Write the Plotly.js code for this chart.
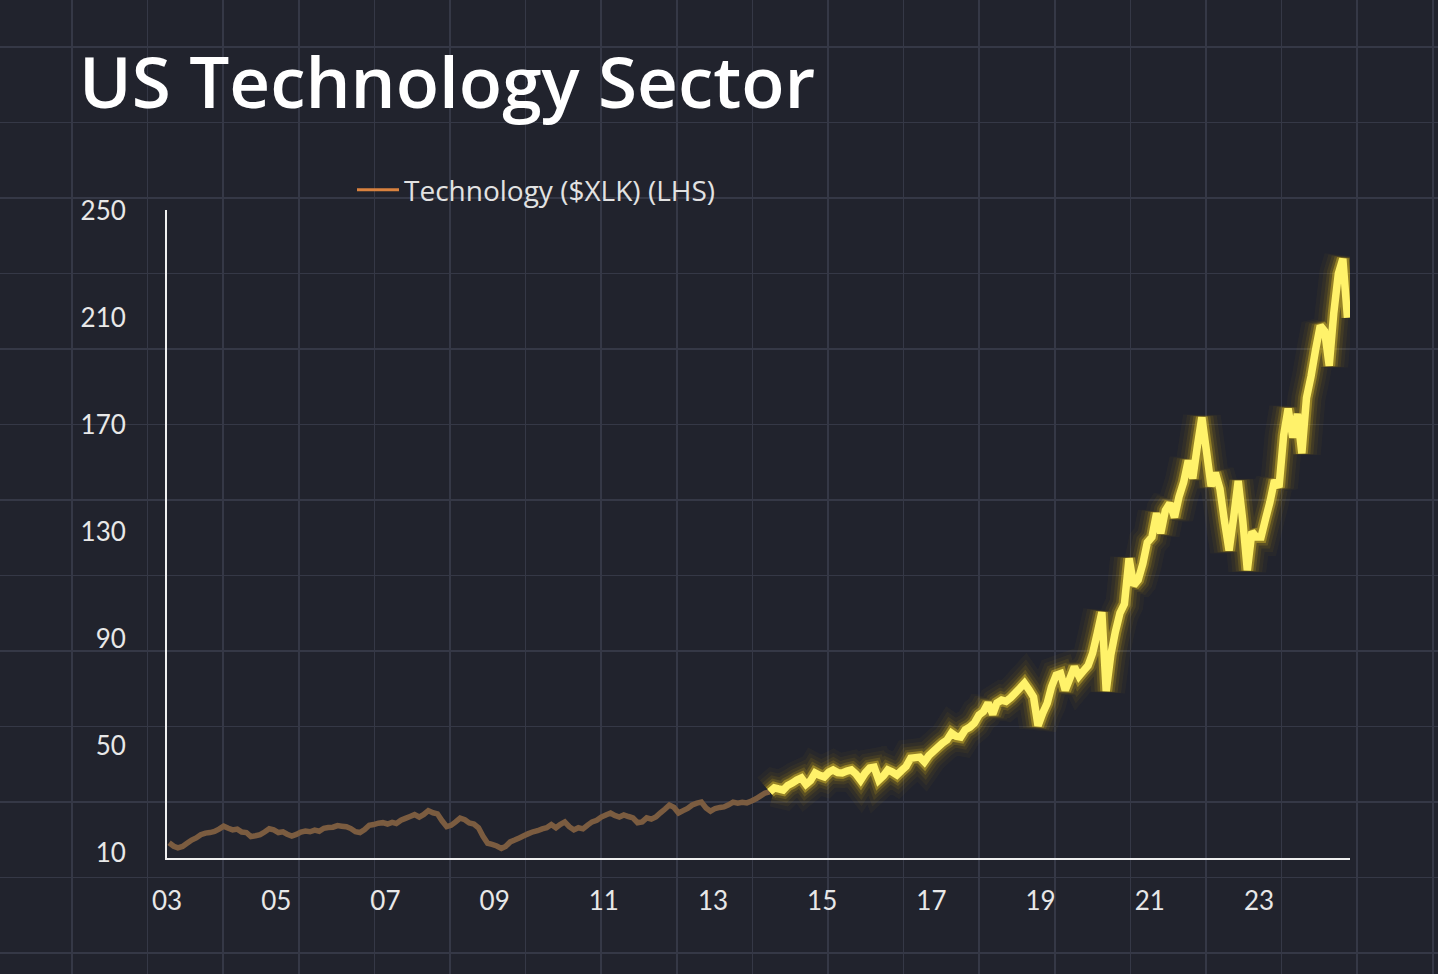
<!DOCTYPE html>
<html>
<head>
<meta charset="utf-8">
<script src="https://cdn.plot.ly/plotly-3.0.1.min.js"></script>
<style>
html,body{margin:0;padding:0;background:#21232d;}
#chart{width:1438px;height:974px;}
</style>
</head>
<body>
<div id="chart"></div>
<script>
// XLK monthly values, Jan 2003 -> Aug 2024 (mid-month)
let xlkStartYear = 2003;
let xlk2003_2008 = [
  13.8, 12.5, 11.9, 12.4, 13.6, 14.8, 15.6, 16.8, 17.4, 17.6, 18.0, 18.9,
  20.0, 19.2, 18.6, 18.9, 17.8, 17.6, 16.1, 16.4, 16.8, 17.8, 19.0, 18.6,
  17.6, 17.9, 17.0, 16.3, 16.9, 17.8, 18.2, 17.9, 18.5, 18.1, 19.2, 19.5,
  19.6, 20.2, 20.0, 19.8, 19.1, 17.9, 17.6, 18.7, 20.3, 20.6, 21.1, 21.3,
  20.8, 21.4, 21.0, 22.2, 22.9, 23.6, 24.3, 23.4, 24.4, 25.8, 25.0, 24.6,
  22.0, 19.8, 20.3, 21.6, 23.0, 22.4, 21.2, 20.8, 19.4, 16.2, 13.6, 13.2
];
let xlk2009_2013 = [
  12.6, 11.7, 12.4, 14.1, 14.8, 15.6, 16.4, 17.2, 17.9, 18.3, 19.0, 19.4,
  20.6, 19.4, 20.6, 21.6, 19.8, 18.6, 19.4, 19.0, 20.4, 21.6, 22.2, 23.4,
  24.2, 24.9, 24.0, 23.4, 24.2, 23.6, 23.1, 21.3, 21.6, 23.1, 22.6, 23.4,
  25.0, 26.4, 27.9, 27.0, 24.9, 25.8, 26.6, 27.9, 28.6, 29.0, 26.8, 25.6,
  26.6, 27.0, 27.2, 28.0, 29.0, 28.6, 28.9, 28.7, 29.4, 30.2, 31.3, 32.4
];
let xlk2014_2019 = [
  32.8, 34.3, 33.9, 33.5, 35.2, 36.1, 37.2, 38.0, 35.6, 37.0, 39.9, 39.0,
  38.4, 40.2, 41.0, 40.0, 39.9, 40.6, 41.0, 39.5, 37.2, 39.8, 41.7, 42.0,
  37.2, 38.8, 41.0, 40.2, 39.1, 40.8, 42.3, 45.4, 45.6, 45.8, 44.0, 46.4,
  48.0, 49.6, 51.0, 52.2, 54.8, 53.6, 53.3, 56.0, 57.0, 58.5, 61.5, 62.8,
  66.0, 61.8, 66.0, 67.1, 66.6, 68.0, 69.7, 71.5, 73.4, 71.0, 68.2, 57.5,
  62.2, 66.0, 72.0, 76.4, 77.0, 70.8, 75.0, 79.5, 76.0, 78.0, 80.0, 84.6
];
let xlk2020_2024 = [
  92.0, 99.9, 70.5, 84.0, 92.5, 99.6, 103.0, 120.0, 110.0, 112.0, 118.0, 126.0,
  128.0, 136.9, 129.4, 138.0, 140.6, 135.4, 143.0, 148.5, 156.6, 149.9, 162.0, 172.7,
  160.0, 147.0, 152.0, 146.0, 134.0, 123.0, 135.0, 149.0, 134.0, 115.6, 130.0, 128.0,
  128.0, 135.0, 141.0, 149.2, 146.6, 166.0, 176.0, 165.2, 174.0, 159.3, 180.0, 188.0,
  198.0, 207.0, 205.0, 192.0, 211.5, 226.4, 232.0, 210.0
];
let highlightStart = '2014-01-15';   // the glowing part starts here

let xTickYears = [2003, 2005, 2007, 2009, 2011, 2013, 2015, 2017, 2019, 2021, 2023];
let xTickLabels = ['03', '05', '07', '09', '11', '13', '15', '17', '19', '21', '23'];
let yTickValues = [10, 50, 90, 130, 170, 210, 250];
let seriesName = 'Technology ($XLK) (LHS)';

let values = xlk2003_2008.concat(xlk2009_2013, xlk2014_2019, xlk2020_2024);
let dates = values.map(function(v, i){
  let yr = xlkStartYear + Math.floor(i / 12);
  let mo = (i % 12) + 1;
  return yr + '-' + (mo < 10 ? '0' + mo : mo) + '-15';
});
let cut = dates.indexOf(highlightStart);

let oldX = dates.slice(0, cut + 1), oldY = values.slice(0, cut + 1);
let newX = dates.slice(cut), newY = values.slice(cut);

function glow(width, color){
  return {x: newX, y: newY, xaxis: 'x2', yaxis: 'y2', mode: 'lines', showlegend: false,
    hoverinfo: 'skip', line: {color: color, width: width, simplify: false}};
}

let traces = [
  // empty trace so the background grid axes get drawn
  {x: [], y: [], xaxis: 'x', yaxis: 'y', mode: 'lines', showlegend: false, hoverinfo: 'skip'},
  {x: oldX, y: oldY, xaxis: 'x2', yaxis: 'y2', mode: 'lines', showlegend: false,
    line: {color: '#7b5c40', width: 5.5, simplify: false}},
  glow(38, 'rgba(255,190,0,0.035)'),
  glow(30, 'rgba(255,195,0,0.05)'),
  glow(23, 'rgba(255,200,10,0.08)'),
  glow(17, 'rgba(255,210,25,0.14)'),
  glow(12, 'rgba(255,220,45,0.35)'),
  glow(7.5, '#fff26a'),
  // legend entry only
  {x: [null], y: [null], xaxis: 'x2', yaxis: 'y2', mode: 'lines', name: seriesName,
    line: {color: '#d9823f', width: 3}}
];

let W = 1438, H = 974;
let bg = '#21232d';
let layout = {
  width: W, height: H,
  margin: {l: 0, r: 0, t: 0, b: 0},
  paper_bgcolor: bg,
  plot_bgcolor: 'rgba(0,0,0,0)',
  font: {family: 'Lato, "Open Sans", sans-serif', color: '#e6e6e6'},
  title: {
    text: 'US Technology Sector',
    font: {family: '"Open Sans", Lato, sans-serif', size: 71, weight: 600, color: '#ffffff'},
    x: 79 / W, xanchor: 'left', xref: 'paper',
    y: 1 - 83 / H, yanchor: 'middle', yref: 'container'
  },
  // background grid over the whole page
  xaxis: {domain: [0, 1], range: [0, W], tick0: 72, dtick: 75.6, showgrid: true,
    gridcolor: '#353846', gridwidth: 1.5, showticklabels: false, zeroline: false,
    showline: false, ticks: '', fixedrange: true},
  yaxis: {domain: [0, 1], range: [H, 0], tick0: 47, dtick: 75.5, showgrid: true,
    gridcolor: '#353846', gridwidth: 1.5, showticklabels: false, zeroline: false,
    showline: false, ticks: '', fixedrange: true},
  // the chart itself
  xaxis2: {
    type: 'date', anchor: 'y2',
    domain: [167 / W, 1350 / W],
    range: ['2003-01-01', '2024-09-01'],
    tickvals: xTickYears.map(y => y + '-01-01'),
    ticktext: xTickLabels,
    ticks: '', ticklabelstandoff: 19,
    tickfont: {family: 'Lato, sans-serif', size: 26, color: '#e8e8e8'},
    showline: true, linecolor: '#f0f0f0', linewidth: 2,
    showgrid: false, zeroline: false
  },
  yaxis2: {
    anchor: 'x2',
    domain: [(H - 858) / H, (H - 210) / H],
    range: [8.1, 250.2],
    tickvals: yTickValues,
    ticks: '', ticklabelstandoff: 34,
    tickfont: {family: 'Lato, sans-serif', size: 26, color: '#e8e8e8'},
    showline: true, linecolor: '#f0f0f0', linewidth: 2,
    showgrid: false, zeroline: false
  },
  showlegend: true,
  legend: {
    x: 352 / W, xanchor: 'left', y: 1 - 190 / H, yanchor: 'middle',
    bgcolor: 'rgba(0,0,0,0)', borderwidth: 0, itemwidth: 42,
    font: {family: '"Open Sans", Lato, sans-serif', size: 28, color: '#e2e2e2'}
  }
};

Plotly.newPlot('chart', traces, layout, {staticPlot: true});
</script>
</body>
</html>
